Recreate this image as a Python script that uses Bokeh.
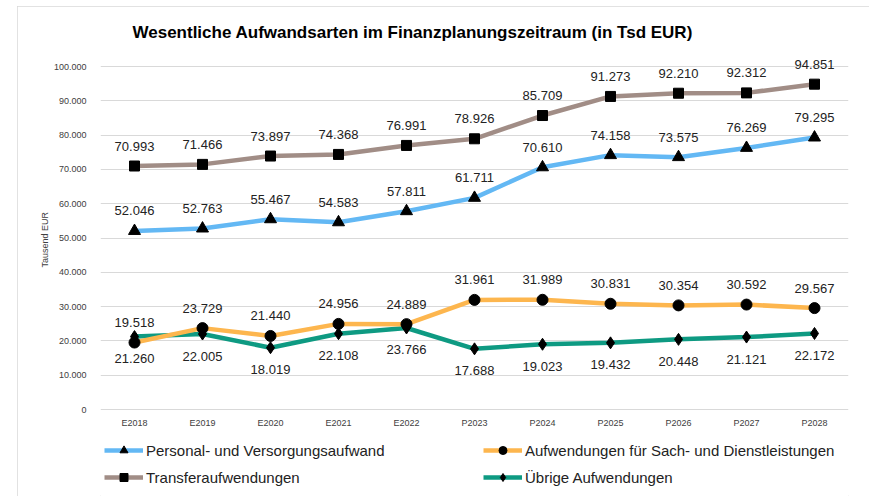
from bokeh.plotting import figure
from bokeh.models import FactorRange, Range1d, FixedTicker, Legend, LegendItem, ColumnDataSource, Title
from bokeh.core.properties import value
from bokeh.embed import file_html
from bokeh.resources import INLINE

categories = ["E2018", "E2019", "E2020", "E2021", "E2022", "P2023",
              "P2024", "P2025", "P2026", "P2027", "P2028"]
personal = [52046, 52763, 55467, 54583, 57811, 61711, 70610, 74158, 73575, 76269, 79295]
sach = [19518, 23729, 21440, 24956, 24889, 31961, 31989, 30831, 30354, 30592, 29567]
transfer = [70993, 71466, 73897, 74368, 76991, 78926, 85709, 91273, 92210, 92312, 94851]
uebrige = [21260, 22005, 18019, 22108, 23766, 17688, 19023, 19432, 20448, 21121, 22172]
y_ticks = [0, 10000, 20000, 30000, 40000, 50000, 60000, 70000, 80000, 90000, 100000]
y_tick_labels = ["0", "10.000", "20.000", "30.000", "40.000", "50.000",
                 "60.000", "70.000", "80.000", "90.000", "100.000"]
series_names = ["Personal- und Versorgungsaufwand",
                "Aufwendungen für Sach- und Dienstleistungen",
                "Transferaufwendungen",
                "Übrige Aufwendungen"]
title_text = "Wesentliche Aufwandsarten im Finanzplanungszeitraum (in Tsd EUR)"
y_label = "Tausend EUR"

FONT = "Liberation Sans"


def fmt(v):
    return f"{v:,}".replace(",", ".")


# the frame reaches down to the figure's bottom so that the legend (drawn in the
# frame) is not clipped; the value 0 sits where the reference's x axis is.
p = figure(width=852, height=490,
           x_range=FactorRange(factors=categories, range_padding=0),
           y_range=Range1d(-25364, 107000),
           x_axis_location=None,
           output_backend="svg", toolbar_location=None,
           min_border_left=83, min_border_right=21,
           min_border_top=36, min_border_bottom=0)
p.margin = (6, 0, 0, 17)
p.styles = {"outline": "1px solid #d9d9d9", "outline-offset": "-1px"}
p.outline_line_color = None
p.background_fill_color = "white"
p.border_fill_color = "white"

p.title.text = title_text
p.title.align = "left"
p.title.offset = 32
p.title.standoff = 2
p.title.text_font = FONT
p.title.text_font_size = "17px"
p.title.text_font_style = "bold"
p.title.text_color = "black"

p.xgrid.grid_line_color = None
p.ygrid.grid_line_color = "#d9d9d9"
p.ygrid.grid_line_width = 1

p.yaxis.ticker = FixedTicker(ticks=y_ticks)
p.yaxis.major_label_overrides = dict(zip(y_ticks, y_tick_labels))
p.yaxis.axis_line_color = None
p.yaxis.major_tick_line_color = None
p.yaxis.minor_tick_line_color = None
p.yaxis.major_label_standoff = 8
p.yaxis.major_label_text_font = FONT
p.yaxis.major_label_text_font_size = "9px"
p.yaxis.major_label_text_color = "#404040"
p.ygrid.ticker = FixedTicker(ticks=y_ticks)

ylab = Title(text=y_label, align="left", offset=229, standoff=2,
             text_font=FONT, text_font_size="9px", text_font_style="normal",
             text_color="#404040")
p.add_layout(ylab, "left")

# category labels under the zero line
xsrc = ColumnDataSource(dict(x=categories, y=[y_ticks[0]] * len(categories)))
p.text("x", "y", text="x", source=xsrc, y_offset=13,
       text_align="center", text_baseline="middle",
       text_font=value(FONT), text_font_size="9px", text_color="#404040")

specs = [
    (series_names[0], personal, "#63B8F4", "triangle", 12, "above"),
    (series_names[2], transfer, "#A18D86", "square", 10, "above"),
    (series_names[3], uebrige, "#0E9A82", "diamond", 12, "below"),
    (series_names[1], sach, "#FDB64E", "circle", 11, "above"),
]

items = {}
for name, vals, color, marker, size, pos in specs:
    src = ColumnDataSource(dict(x=categories, y=vals, t=[fmt(v) for v in vals]))
    lr = p.line("x", "y", source=src, line_color=color, line_width=4.5)
    sr = p.scatter("x", "y", source=src, marker=marker, size=size,
                   fill_color="black", line_color="black")
    p.text("x", "y", text="t", source=src,
           y_offset=(-20 if pos == "above" else 22),
           text_align="center", text_baseline="middle",
           text_font=value(FONT), text_font_size="13px", text_color="#222222")
    items[name] = LegendItem(label=name, renderers=[lr, sr])


def make_legend(names, loc):
    return Legend(items=[items[n] for n in names], location=loc,
                  orientation="vertical", padding=0, margin=0, spacing=7,
                  glyph_width=39, glyph_height=20, label_standoff=3,
                  label_text_font=FONT, label_text_font_size="15px",
                  label_text_color="#222222", border_line_color=None,
                  background_fill_alpha=0)


p.add_layout(make_legend([series_names[0], series_names[2]], (4, 9)), "center")
p.add_layout(make_legend([series_names[1], series_names[3]], (383, 9)), "center")

open("out.html", "w").write(file_html(p, INLINE))
